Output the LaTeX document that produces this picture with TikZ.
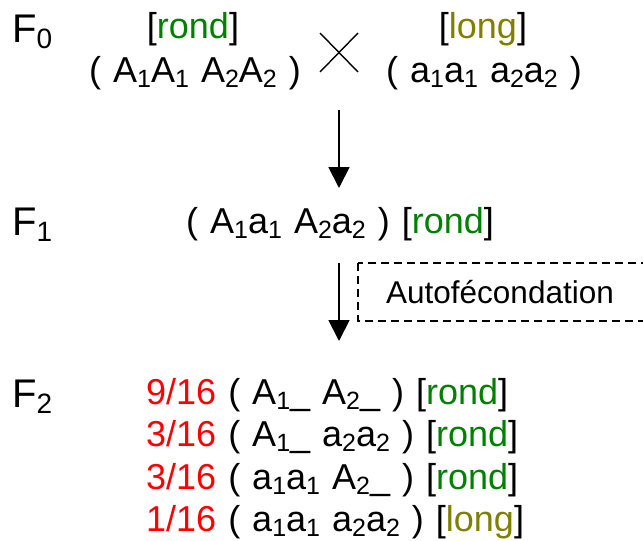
\documentclass[tikz,border=0pt]{standalone}
\usepackage{fontspec}
\setmainfont{Liberation Sans}
\usetikzlibrary{arrows.meta}
\definecolor{rondc}{RGB}{0,128,0}
\definecolor{longc}{RGB}{128,128,0}
\definecolor{fracc}{RGB}{255,0,0}
% subscript used inside the genotypes
\newcommand{\sbs}[1]{\raisebox{-0.14em}{\fontsize{25}{25}\selectfont #1}}
% generation label with its index
\newcommand{\gen}[1]{F\raisebox{-0.17em}{\fontsize{28}{28}\selectfont #1}}
\newcommand{\phrond}{[\textcolor{rondc}{rond}]}
\newcommand{\phlong}{[\textcolor{longc}{long}]}
% slightly wider word spacing for the genotype lines
\newcommand{\widesp}{\spaceskip 12pt\relax}
\tikzset{
  txt/.style={inner sep=0pt, font=\fontsize{36}{40}\selectfont\widesp},
  genlbl/.style={inner sep=0pt, anchor=base west, font=\fontsize{40}{44}\selectfont},
  cross/.style={line width=1.4pt},
  flow/.style={line width=1.8pt, -{Triangle[width=21pt,length=21pt]}},
  note/.style={line width=1.3pt, dash pattern=on 8pt off 5pt},
}
\begin{document}
\begin{tikzpicture}[x=1pt,y=-1pt]
\useasboundingbox (0,0) rectangle (643,541);
\clip (0,0) rectangle (643,541);

% generation labels
\node[genlbl] (f0) at (12,42) {\gen{0}};
\node[genlbl] (f1) at (12,235) {\gen{1}};
\node[genlbl] (f2) at (12,407) {\gen{2}};

% parents
\node[txt, anchor=base] (p1ph) at (193,38) {\phrond};
\node[txt, anchor=base] (p1ge) at (195,82) {( A\sbs{1}A\sbs{1} A\sbs{2}A\sbs{2} )};
\node[txt, anchor=base] (p2ph) at (483,38) {\phlong};
\node[txt, anchor=base] (p2ge) at (484,82) {( a\sbs{1}a\sbs{1} a\sbs{2}a\sbs{2} )};

% cross sign
\coordinate (xa) at (320,33);
\coordinate (xb) at (358,72);
\coordinate (xc) at (358,33);
\coordinate (xd) at (320,72);
\draw[cross] (xa) -- (xb);
\draw[cross] (xc) -- (xd);

% F1
\node[txt, anchor=base west] (hyb) at (186,233)
  {( A\sbs{1}a\sbs{1} A\sbs{2}a\sbs{2} ) \phrond};

% arrows between generations
\coordinate (s1) at (339,110);
\coordinate (e1) at (339,188);
\coordinate (s2) at (339,263);
\coordinate (e2) at (339,341);
\draw[flow] (s1) -- (e1);
\draw[flow] (s2) -- (e2);

% self-fertilisation note
\coordinate (bx1) at (358,263);
\coordinate (bx2) at (660,321);
\draw[note] (bx1) rectangle (bx2);
\node[txt, anchor=base, font=\fontsize{31.5}{34}\selectfont] (auto) at (500,303) {Autofécondation};

% F2 segregation
\node[txt, anchor=base west] (r1) at (146,404)
  {\textcolor{fracc}{9/16} ( A\sbs{1}\textunderscore{} A\sbs{2}\textunderscore{} ) \phrond};
\node[txt, anchor=base west] (r2) at (146,446)
  {\textcolor{fracc}{3/16} ( A\sbs{1}\textunderscore{} a\sbs{2}a\sbs{2} ) \phrond};
\node[txt, anchor=base west] (r3) at (146,489)
  {\textcolor{fracc}{3/16} ( a\sbs{1}a\sbs{1} A\sbs{2}\textunderscore{} ) \phrond};
\node[txt, anchor=base west] (r4) at (146,531)
  {\textcolor{fracc}{1/16} ( a\sbs{1}a\sbs{1} a\sbs{2}a\sbs{2} ) \phlong};
\end{tikzpicture}
\end{document}
